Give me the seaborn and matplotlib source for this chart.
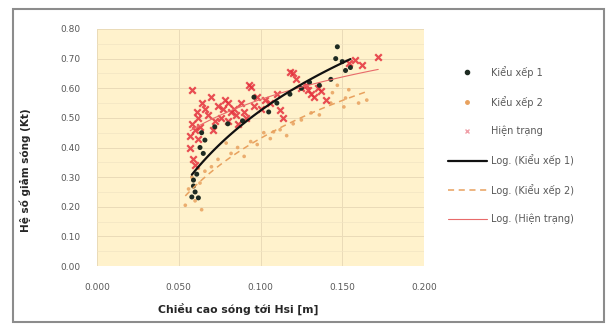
import numpy as np
import pandas as pd
import matplotlib
matplotlib.use("Agg")
import matplotlib.pyplot as plt
from matplotlib.patches import Rectangle
from matplotlib.lines import Line2D
import seaborn as sns

# ---- data ----
x_k1 = [0.058, 0.059, 0.060, 0.062, 0.059, 0.061, 0.063, 0.064, 0.066, 0.065, 0.072, 0.080, 0.089,
        0.096, 0.105, 0.110, 0.118, 0.125, 0.130, 0.136, 0.143, 0.146, 0.147, 0.150, 0.152, 0.155]
y_k1 = [0.233, 0.290, 0.250, 0.230, 0.270, 0.310, 0.400, 0.450, 0.425, 0.380, 0.470, 0.480, 0.490,
        0.570, 0.520, 0.550, 0.580, 0.600, 0.620, 0.610, 0.630, 0.700, 0.740, 0.690, 0.660, 0.670]

x_k2 = [0.054, 0.056, 0.058, 0.060, 0.062, 0.064, 0.063, 0.066, 0.070, 0.074, 0.079, 0.082, 0.086,
        0.090, 0.094, 0.098, 0.102, 0.106, 0.108, 0.112, 0.116, 0.120, 0.125, 0.131, 0.136, 0.143,
        0.144, 0.147, 0.151, 0.152, 0.154, 0.160, 0.165]
y_k2 = [0.205, 0.260, 0.300, 0.220, 0.330, 0.190, 0.280, 0.320, 0.335, 0.360, 0.415, 0.380, 0.400,
        0.370, 0.420, 0.410, 0.450, 0.430, 0.453, 0.460, 0.440, 0.480, 0.493, 0.517, 0.510, 0.550,
        0.585, 0.610, 0.537, 0.567, 0.595, 0.550, 0.560]

x_ht = [0.057, 0.057, 0.058, 0.058, 0.059, 0.060, 0.061, 0.062, 0.063, 0.064, 0.066, 0.068, 0.070,
        0.072, 0.074, 0.076, 0.078, 0.080, 0.080, 0.082, 0.084, 0.086, 0.088, 0.090, 0.093, 0.094,
        0.096, 0.098, 0.100, 0.103, 0.106, 0.110, 0.112, 0.114, 0.118, 0.120, 0.122, 0.125, 0.128,
        0.129, 0.131, 0.133, 0.135, 0.137, 0.140, 0.154, 0.158, 0.162, 0.172, 0.062, 0.071, 0.077,
        0.085, 0.091, 0.060]
y_ht = [0.400, 0.440, 0.595, 0.480, 0.360, 0.460, 0.520, 0.500, 0.470, 0.550, 0.530, 0.510, 0.570,
        0.490, 0.540, 0.500, 0.560, 0.550, 0.490, 0.520, 0.530, 0.480, 0.550, 0.520, 0.610, 0.605,
        0.540, 0.570, 0.530, 0.560, 0.550, 0.580, 0.527, 0.500, 0.655, 0.650, 0.630, 0.600, 0.610,
        0.595, 0.580, 0.570, 0.600, 0.590, 0.560, 0.685, 0.695, 0.680, 0.705, 0.430, 0.460, 0.530,
        0.510, 0.500, 0.340]

series_names = ["Kiểu xếp 1", "Kiểu xếp 2", "Hiện trạng"]
x_ticks = [0.000, 0.050, 0.100, 0.150, 0.200]
y_ticks = [0.00, 0.10, 0.20, 0.30, 0.40, 0.50, 0.60, 0.70, 0.80]

df = pd.concat([
    pd.DataFrame({"x": x_k1, "y": y_k1, "s": series_names[0]}),
    pd.DataFrame({"x": x_k2, "y": y_k2, "s": series_names[1]}),
    pd.DataFrame({"x": x_ht, "y": y_ht, "s": series_names[2]}),
])

def log_fit(name):
    d = df[df.s == name]
    a, b = np.polyfit(np.log(d.x), d.y, 1)
    xs = np.linspace(d.x.min(), d.x.max(), 60)
    return pd.DataFrame({"x": xs, "y": a * np.log(xs) + b})

sns.set_style("white")
plt.rcParams["font.family"] = ["DejaVu Sans"]

W, H = 606, 324
fig = plt.figure(figsize=(W / 100, H / 100), dpi=100)
fig.patches.append(Rectangle((13 / W, 2 / H), 591 / W, 313 / H, transform=fig.transFigure,
                             fill=False, edgecolor="#8c8c8c", linewidth=1.5))
ax = fig.add_axes([97 / W, 1 - 266 / H, 327 / W, 237 / H])
ax.set_facecolor("#FFF2CC")

c1, c2, c3 = "#1E2B22", "#E8A15E", "#E5303C"
sns.scatterplot(data=df[df.s == series_names[1]], x="x", y="y", ax=ax, color=c2, marker="o",
                s=7, edgecolor="none", alpha=0.85, legend=False, zorder=3)
sns.scatterplot(data=df[df.s == series_names[2]], x="x", y="y", ax=ax, color=c3, marker="x",
                s=22, linewidth=1.6, alpha=0.85, legend=False, zorder=4)
sns.scatterplot(data=df[df.s == series_names[0]], x="x", y="y", ax=ax, color=c1, marker="o",
                s=13, edgecolor="none", legend=False, zorder=5)

sns.lineplot(data=log_fit(series_names[1]), x="x", y="y", ax=ax, color=c2, linestyle=(0, (4, 3)),
             linewidth=1.1, zorder=6)
sns.lineplot(data=log_fit(series_names[2]), x="x", y="y", ax=ax, color="#E86A6A", linewidth=0.8, zorder=6)
sns.lineplot(data=log_fit(series_names[0]), x="x", y="y", ax=ax, color="#111111", linewidth=1.6, zorder=7)

ax.set_xlim(0, 0.2)
ax.set_ylim(0, 0.8)
ax.set_xticks(x_ticks)
ax.set_xticklabels([f"{v:.3f}" for v in x_ticks])
ax.set_yticks(y_ticks)
ax.set_yticklabels([f"{v:.2f}" for v in y_ticks])
ax.set_yticks(np.arange(0.05, 0.8, 0.1), minor=True)
ax.tick_params(axis="both", which="both", labelsize=6.5, colors="#595959", length=0)
ax.tick_params(axis="y", pad=12)
ax.tick_params(axis="x", pad=12)
ax.grid(True, which="major", color="#EADBB8", linewidth=0.7)
ax.grid(True, which="minor", axis="y", color="#F2E4C3", linewidth=0.5)
for sp in ax.spines.values():
    sp.set_visible(False)
ax.set_axisbelow(True)

ax.set_xlabel("Chiều cao sóng tới Hsi [m]", fontsize=7.8, fontweight="bold", color="#262626")
ax.set_ylabel("Hệ số giảm sóng (Kt)", fontsize=7.5, fontweight="bold", color="#262626")
ax.xaxis.set_label_coords((238 - 97) / 327, -(304 - 266) / 237)
ax.yaxis.set_label_coords(-(97 - 31) / 327, 1 - (170 - 29) / 237)

handles = [
    Line2D([], [], linestyle="none", marker="o", color=c1, markersize=3),
    Line2D([], [], linestyle="none", marker="o", color=c2, markersize=2.5),
    Line2D([], [], linestyle="none", marker="x", color="#F0A0A8", markersize=3.5),
    Line2D([], [], color="#111111", linewidth=1.6),
    Line2D([], [], color=c2, linewidth=1.1, linestyle=(0, (4, 3))),
    Line2D([], [], color="#E86A6A", linewidth=0.8),
]
labels = series_names + ["Log. (" + n + ")" for n in series_names]
fig.legend(handles, labels, loc="upper left", bbox_to_anchor=(439 / W, 1 - 57 / H), frameon=False,
           fontsize=7, labelcolor="#595959", labelspacing=1.85, handlelength=4.0, handletextpad=0.4)

fig.savefig("out.png", dpi=100)
